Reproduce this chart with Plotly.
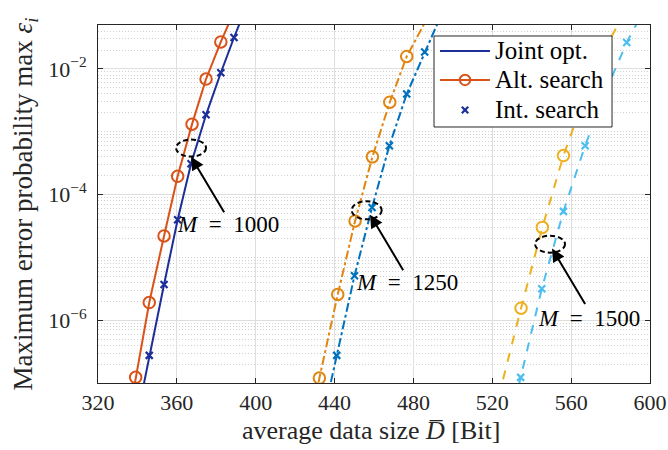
import math
import plotly.graph_objects as go

# ---------------- data ----------------
# M = 1000
alt1000_x = [339.1, 346.0, 353.5, 360.4, 367.7, 374.8, 382.3]
alt1000_y = [1.23e-7, 1.91e-6, 2.19e-5, 1.95e-4, 1.32e-3, 6.9e-3, 2.69e-2]
alt1000_line_x = [331.9] + alt1000_x + [389.5]
alt1000_line_y = [6.3e-9] + alt1000_y + [8.9e-2]
int1000_x = [346.0, 353.5, 360.4, 367.2, 374.8, 382.3, 389.0]
int1000_y = [2.75e-7, 3.7e-6, 3.98e-5, 3.09e-4, 1.86e-3, 8.7e-3, 3.16e-2]
joint1000_x = [338.5] + int1000_x + [396.0]
joint1000_y = [1.78e-8] + int1000_y + [1.12e-1]

# M = 1250
alt1250_x = [432.3, 441.6, 450.4, 459.2, 468.0, 476.6]
alt1250_y = [1.2e-7, 2.57e-6, 3.8e-5, 3.98e-4, 2.95e-3, 1.58e-2]
alt1250_line_x = [423.5] + alt1250_x + [492.0]
alt1250_line_y = [4.0e-9] + alt1250_y + [1.26e-1]
int1250_x = [441.1, 450.1, 459.0, 467.8, 476.6, 485.7]
int1250_y = [2.75e-7, 5.1e-6, 6.2e-5, 6.0e-4, 3.98e-3, 1.86e-2]
joint1250_x = [432.2] + int1250_x + [497.0]
joint1250_y = [1.5e-8] + int1250_y + [1.17e-1]

# M = 1500
alt1500_x = [534.6, 545.4, 556.1, 566.8, 577.5]
alt1500_y = [1.55e-6, 3.0e-5, 4.17e-4, 3.55e-3, 2.24e-2]
alt1500_line_x = [521.0] + alt1500_x + [590.0]
alt1500_line_y = [3.2e-8] + alt1500_y + [1.12e-1]
int1500_x = [534.4, 545.1, 556.1, 567.1, 577.6, 588.2]
int1500_y = [1.23e-7, 3.16e-6, 5.4e-5, 6.0e-4, 4.5e-3, 2.63e-2]
joint1500_x = [527.0] + int1500_x + [598.0]
joint1500_y = [1.29e-8] + int1500_y + [1.0e-1]

x_ticks = [320, 360, 400, 440, 480, 520, 560, 600]
y_ticks = [1e-6, 1e-4, 1e-2]
y_ticktext = ["10<sup>−6</sup>", "10<sup>−4</sup>", "10<sup>−2</sup>"]

legend_names = ["Joint opt.", "Alt. search", "Int. search"]
labels = ["<i>M</i>\u2002=\u20021000", "<i>M</i>\u2002=\u20021250", "<i>M</i>\u2002=\u20021500"]

FONT = "Liberation Serif"
C_JOINT = "#1C2E98"
C_ALT = "#D95319"

fig = go.Figure()

groups = [
    dict(jx=joint1000_x, jy=joint1000_y, ax_=alt1000_line_x, ay_=alt1000_line_y,
         amx=alt1000_x, amy=alt1000_y, ix=int1000_x, iy=int1000_y,
         cj=C_JOINT, ca=C_ALT, dash="solid"),
    dict(jx=joint1250_x, jy=joint1250_y, ax_=alt1250_line_x, ay_=alt1250_line_y,
         amx=alt1250_x, amy=alt1250_y, ix=int1250_x, iy=int1250_y,
         cj="#0072BD", ca="#E0850F", dash="dashdot"),
    dict(jx=joint1500_x, jy=joint1500_y, ax_=alt1500_line_x, ay_=alt1500_line_y,
         amx=alt1500_x, amy=alt1500_y, ix=int1500_x, iy=int1500_y,
         cj="#4DBEEE", ca="#EDB120", dash="dash"),
]

for g in groups:
    fig.add_trace(go.Scatter(x=g["jx"], y=g["jy"], mode="lines",
                             line=dict(color=g["cj"], width=2, dash=g["dash"]),
                             name=legend_names[0]))
    fig.add_trace(go.Scatter(x=g["ax_"], y=g["ay_"], mode="lines",
                             line=dict(color=g["ca"], width=2, dash=g["dash"]),
                             name=legend_names[1], hoverinfo="skip"))
    fig.add_trace(go.Scatter(x=g["amx"], y=g["amy"], mode="markers",
                             marker=dict(symbol="circle-open", size=11.5, color=g["ca"],
                                         line=dict(width=2, color=g["ca"])),
                             name=legend_names[1]))
    fig.add_trace(go.Scatter(x=g["ix"], y=g["iy"], mode="markers",
                             marker=dict(symbol="x-thin-open", size=7, color=g["cj"],
                                         line=dict(width=2.2, color=g["cj"])),
                             name=legend_names[2]))

# ellipses (centre x, centre log10 y, half-width, half-height in decades), arrows, labels
ellipses = [(367.2, -3.26, 7.6, 0.135), (456.3, -4.25, 7.6, 0.145), (549.3, -4.79, 7.6, 0.135)]
arrows = [(367.2, -3.40), (458.0, -4.32), (550.3, -4.86)]
texts = [(386.0, -4.48), (476.8, -5.40), (569.1, -5.98)]
for (cx, cy, rx, ry), (hx, hy), (tx, ty), lab in zip(ellipses, arrows, texts, labels):
    fig.add_shape(type="circle", xref="x", yref="y", x0=cx - rx, x1=cx + rx,
                  y0=10 ** (cy - ry), y1=10 ** (cy + ry),
                  line=dict(color="black", width=2, dash="5px,3px"), layer="above")
    fig.add_annotation(x=hx, y=hy, xref="x", yref="y", text="", showarrow=True,
                       ax=34, ay=57, arrowhead=2, arrowsize=1.3, arrowwidth=2,
                       arrowcolor="black")
    fig.add_annotation(x=tx, y=ty, xref="x", yref="y", text=lab, showarrow=False,
                       font=dict(family=FONT, size=23, color="black"),
                       xanchor="center", yanchor="middle")

# ---- legend box drawn by hand (paper coordinates) ----
LX0, LX1, LY0, LY1 = 0.6087, 0.9312, 0.7151, 0.9693
rows = [0.9274, 0.8464, 0.7626]
sx0, sx1, sxc, tx0 = 0.6196, 0.7101, 0.6649, 0.7156
fig.add_shape(type="rect", xref="paper", yref="paper", x0=LX0, x1=LX1, y0=LY0, y1=LY1,
              fillcolor="white", line=dict(color="#262626", width=1), layer="above")
fig.add_shape(type="line", xref="paper", yref="paper", x0=sx0, x1=sx1, y0=rows[0], y1=rows[0],
              line=dict(color=C_JOINT, width=2), layer="above")
fig.add_shape(type="line", xref="paper", yref="paper", x0=sx0, x1=sx1, y0=rows[1], y1=rows[1],
              line=dict(color=C_ALT, width=2), layer="above")
fig.add_shape(type="circle", xref="paper", yref="paper", xsizemode="pixel", ysizemode="pixel",
              xanchor=sxc, yanchor=rows[1], x0=-5.2, x1=5.2, y0=-5.2, y1=5.2,
              line=dict(color=C_ALT, width=2), fillcolor="rgba(0,0,0,0)", layer="above")
for a, b in ((-3.2, 3.2), (3.2, -3.2)):
    fig.add_shape(type="line", xref="paper", yref="paper", xsizemode="pixel", ysizemode="pixel",
                  xanchor=sxc, yanchor=rows[2], x0=-3.2, x1=3.2, y0=a, y1=b,
                  line=dict(color=C_JOINT, width=2.2), layer="above")
for name, ry in zip(legend_names, rows):
    fig.add_annotation(x=tx0, y=ry, xref="paper", yref="paper", text=name, showarrow=False,
                       font=dict(family=FONT, size=25, color="black"),
                       xanchor="left", yanchor="middle")

# x-axis title placed as a paper annotation for exact vertical placement
fig.add_annotation(x=0.495, y=-0.133, xref="paper", yref="paper",
                   text="average data size <i>D\u0305</i> [Bit]", showarrow=False,
                   font=dict(family=FONT, size=26, color="#262626"),
                   xanchor="center", yanchor="middle")

minor_vals = []
for n in range(-8, 0):
    for k in range(1, 10):
        v = k * 10.0 ** n
        if k == 1 and n in (-2, -4, -6):
            continue
        minor_vals.append(v)

axis_common = dict(showline=True, linecolor="#262626", linewidth=1, mirror="ticks",
                   ticks="inside", ticklen=5, tickcolor="#262626",
                   showgrid=True, gridcolor="#DEDEDE", gridwidth=1, zeroline=False,
                   automargin=False,
                   tickfont=dict(family=FONT, size=22, color="#262626"))

fig.update_xaxes(range=[320, 600], tickvals=x_ticks, **axis_common)
fig.update_yaxes(type="log", range=[-7, math.log10(0.05)], tickvals=y_ticks,
                 ticktext=y_ticktext, ticklabelstandoff=6,
                 minor=dict(tickvals=minor_vals, showgrid=True, gridcolor="#D0D0D0",
                            griddash="1px,2px", gridwidth=1, ticks=""),
                 title=dict(text="Maximum error probability max <i>ε<sub>i</sub></i>",
                            font=dict(family=FONT, size=27, color="#262626"), standoff=7),
                 **axis_common)

fig.update_layout(
    width=668, height=450,
    margin=dict(l=98, r=18, t=25, b=67),
    paper_bgcolor="white", plot_bgcolor="white",
    showlegend=False,
    font=dict(family=FONT),
)

fig.write_html("out.html",
               config={"displayModeBar": False},
               post_script="document.body.style.margin='0px';"
                           "document.body.style.overflow='hidden';")
